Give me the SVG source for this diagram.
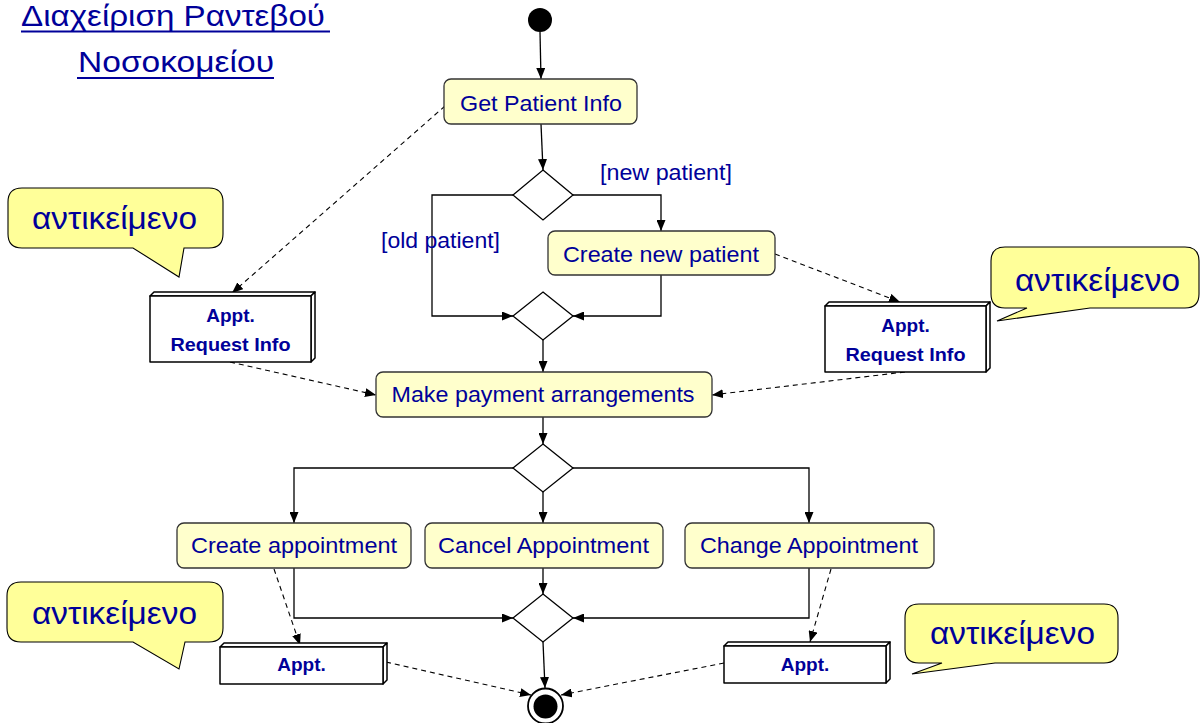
<svg xmlns="http://www.w3.org/2000/svg" width="1201" height="723" viewBox="0 0 1201 723">
  <defs>
    <marker id="arrow" viewBox="0 0 11 9" markerUnits="userSpaceOnUse" markerWidth="11" markerHeight="9" refX="11" refY="4.5" orient="auto">
      <path d="M0,0 L11,4.5 L0,9 Z" fill="#000"/>
    </marker>
    <style>
      .act { fill: #FFFFCC; stroke: #333; stroke-width: 1.3; }
      .actText { font-family: "Liberation Sans", Arial, sans-serif; font-size: 22px; fill: #000099; text-anchor: middle; }
      .guard { font-family: "Liberation Sans", Arial, sans-serif; font-size: 22px; fill: #000099; }
      .dec { fill: #fff; stroke: #000; stroke-width: 1.3; }
      .flow { fill: none; stroke: #000; stroke-width: 1.3; marker-end: url(#arrow); }
      .dep { fill: none; stroke: #000; stroke-width: 1.1; stroke-dasharray: 5 4; marker-end: url(#arrow); }
      .obj { fill: #fff; stroke: #000; stroke-width: 1.5; stroke-linejoin: round; }
      .objText { font-family: "Liberation Sans", Arial, sans-serif; font-size: 19px; font-weight: bold; fill: #000099; text-anchor: middle; }
      .note { fill: #FFFF99; stroke: #000; stroke-width: 1.1; }
      .noteText { font-family: "Liberation Sans", Arial, sans-serif; font-size: 31px; fill: #000099; text-anchor: middle; }
      .title { font-family: "Liberation Sans", Arial, sans-serif; font-size: 29px; fill: #000099; }
    </style>
  </defs>
  <rect width="1201" height="723" fill="#fff"/>

  <!-- heading -->
  <g id="title">
    <text class="title" x="21" y="26" textLength="304" lengthAdjust="spacingAndGlyphs">Διαχείριση Ραντεβού</text>
    <line x1="21" y1="31.5" x2="330" y2="31.5" stroke="#000099" stroke-width="2"/>
    <text class="title" x="78" y="72" textLength="196" lengthAdjust="spacingAndGlyphs">Νοσοκομείου</text>
    <line x1="77" y1="78" x2="274" y2="78" stroke="#000099" stroke-width="2"/>
  </g>

  <!-- control flow and object flow -->
  <g id="connectors">
    <path class="flow" d="M540,32 L541,79"/>
    <path class="flow" d="M541,124 L543,170"/>
    <path class="flow" d="M573,195 H661 V231"/>
    <path class="flow" d="M513,195 H432 V316 H513"/>
    <path class="flow" d="M661,275 V316 H573"/>
    <path class="flow" d="M543,340 V372"/>
    <path class="flow" d="M543,417 V444"/>
    <path class="flow" d="M513,468 H294 V523"/>
    <path class="flow" d="M543,492 V523"/>
    <path class="flow" d="M573,468 H809 V523"/>
    <path class="flow" d="M294,568 V618 H513"/>
    <path class="flow" d="M543,568 V594"/>
    <path class="flow" d="M809,568 V618 H573"/>
    <path class="flow" d="M543,642 L545,688"/>

    <path class="dep" d="M445,106 L232,293"/>
    <path class="dep" d="M230,362 L376,395"/>
    <path class="dep" d="M775,254 L900,302"/>
    <path class="dep" d="M905,372 L712,395"/>
    <path class="dep" d="M274,569 L300,645"/>
    <path class="dep" d="M831,569 L810,642"/>
    <path class="dep" d="M386,662 L531,695"/>
    <path class="dep" d="M724,663 L561,695"/>
  </g>

  <g id="start">
    <circle cx="540" cy="20" r="12" fill="#000"/>
  </g>

  <g id="getPatientInfo">
    <rect class="act" x="444" y="79" width="193" height="45" rx="7"/>
    <text class="actText" x="541" y="111" textLength="162" lengthAdjust="spacingAndGlyphs">Get Patient Info</text>
  </g>

  <g id="decisionPatient">
    <polygon class="dec" points="543,170 573,195 543,220 513,195"/>
    <text class="guard" x="600" y="180" textLength="132" lengthAdjust="spacingAndGlyphs">[new patient]</text>
    <text class="guard" x="381" y="248" textLength="119" lengthAdjust="spacingAndGlyphs">[old patient]</text>
  </g>

  <g id="createNewPatient">
    <rect class="act" x="548" y="231" width="227" height="44" rx="7"/>
    <text class="actText" x="661" y="262" textLength="196" lengthAdjust="spacingAndGlyphs">Create new patient</text>
  </g>

  <g id="mergePatient">
    <polygon class="dec" points="543,292 573,316 543,340 513,316"/>
  </g>

  <g id="makePayment">
    <rect class="act" x="376" y="372" width="336" height="45" rx="7"/>
    <text class="actText" x="543" y="402" textLength="303" lengthAdjust="spacingAndGlyphs">Make payment arrangements</text>
  </g>

  <g id="decisionAppt">
    <polygon class="dec" points="543,444 573,468 543,492 513,468"/>
  </g>

  <g id="createAppointment">
    <rect class="act" x="177" y="523" width="234" height="45" rx="7"/>
    <text class="actText" x="294" y="553" textLength="206" lengthAdjust="spacingAndGlyphs">Create appointment</text>
  </g>

  <g id="cancelAppointment">
    <rect class="act" x="425" y="523" width="238" height="45" rx="7"/>
    <text class="actText" x="543.5" y="553" textLength="211" lengthAdjust="spacingAndGlyphs">Cancel Appointment</text>
  </g>

  <g id="changeAppointment">
    <rect class="act" x="685" y="523" width="249" height="45" rx="7"/>
    <text class="actText" x="809" y="553" textLength="218" lengthAdjust="spacingAndGlyphs">Change Appointment</text>
  </g>

  <g id="mergeAppt">
    <polygon class="dec" points="543,594 573,618 543,642 513,618"/>
  </g>

  <g id="end">
    <circle cx="545.5" cy="706" r="17.5" fill="#fff" stroke="#000" stroke-width="1.8"/>
    <circle cx="545.5" cy="706.5" r="12" fill="#000"/>
  </g>

  <!-- object nodes drawn as shallow boxes -->
  <g id="requestInfoLeft">
    <polygon class="obj" points="150,296 154,292 315,292 311,296"/>
    <polygon class="obj" points="311,296 315,292 315,358 311,362"/>
    <rect class="obj" x="150" y="296" width="161" height="66"/>
    <text class="objText" x="230.5" y="322">Appt.</text>
    <text class="objText" x="230.5" y="351" textLength="120" lengthAdjust="spacingAndGlyphs">Request Info</text>
  </g>

  <g id="requestInfoRight">
    <polygon class="obj" points="825,306 829,302 990,302 986,306"/>
    <polygon class="obj" points="986,306 990,302 990,368 986,372"/>
    <rect class="obj" x="825" y="306" width="161" height="66"/>
    <text class="objText" x="905.5" y="332">Appt.</text>
    <text class="objText" x="905.5" y="361" textLength="120" lengthAdjust="spacingAndGlyphs">Request Info</text>
  </g>

  <g id="apptLeft">
    <polygon class="obj" points="220,647 224,643 387,643 383,647"/>
    <polygon class="obj" points="383,647 387,643 387,680 383,684"/>
    <rect class="obj" x="220" y="647" width="163" height="37"/>
    <text class="objText" x="301.5" y="671">Appt.</text>
  </g>

  <g id="apptRight">
    <polygon class="obj" points="724,646 728,642 890,642 886,646"/>
    <polygon class="obj" points="886,646 890,642 890,679 886,683"/>
    <rect class="obj" x="724" y="646" width="162" height="37"/>
    <text class="objText" x="805" y="671">Appt.</text>
  </g>

  <!-- callouts -->
  <g id="noteTopLeft">
    <path class="note" d="M22,188 H209 Q223,188 223,202 V234 Q223,248 209,248 H184 L179,277 L133,248 H22 Q8,248 8,234 V202 Q8,188 22,188 Z"/>
    <text class="noteText" x="114.5" y="229" textLength="165" lengthAdjust="spacingAndGlyphs">αντικείμενο</text>
  </g>

  <g id="noteRight">
    <path class="note" d="M1005,247 H1185 Q1199,247 1199,261 V294 Q1199,308 1185,308 H1090 L997,321 L1027,308 H1005 Q991,308 991,294 V261 Q991,247 1005,247 Z"/>
    <text class="noteText" x="1097.5" y="291" textLength="165" lengthAdjust="spacingAndGlyphs">αντικείμενο</text>
  </g>

  <g id="noteBottomLeft">
    <path class="note" d="M21,582 H209 Q223,582 223,596 V628 Q223,642 209,642 H185 L179,669 L133,642 H21 Q7,642 7,628 V596 Q7,582 21,582 Z"/>
    <text class="noteText" x="114.5" y="624" textLength="165" lengthAdjust="spacingAndGlyphs">αντικείμενο</text>
  </g>

  <g id="noteBottomRight">
    <path class="note" d="M919,604 H1104 Q1118,604 1118,618 V649 Q1118,663 1104,663 H995 L912,674 L942,663 H919 Q905,663 905,649 V618 Q905,604 919,604 Z"/>
    <text class="noteText" x="1012.5" y="644" textLength="165" lengthAdjust="spacingAndGlyphs">αντικείμενο</text>
  </g>
</svg>
